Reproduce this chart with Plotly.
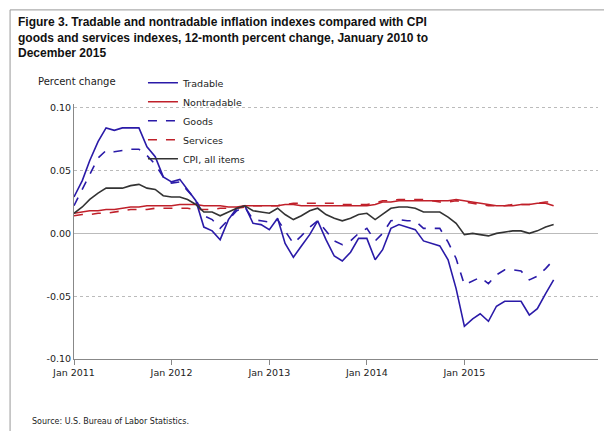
import plotly.graph_objects as go
import pandas as pd

months = pd.date_range("2011-01-01", "2015-12-01", freq="MS")
tradable = [0.029,0.042,0.058,0.073,0.084,0.082,0.084,0.084,0.084,0.069,0.061,0.045,
            0.041,0.043,0.035,0.026,0.005,0.002,-0.005,0.011,0.020,0.022,0.008,0.007,
            0.003,0.012,-0.008,-0.019,-0.010,-0.001,0.010,-0.005,-0.018,-0.022,-0.015,-0.004,
            -0.004,-0.021,-0.013,0.004,0.007,0.005,0.003,-0.006,-0.008,-0.010,-0.021,-0.044,
            -0.074,-0.068,-0.064,-0.070,-0.058,-0.054,-0.054,-0.054,-0.065,-0.060,-0.048,-0.037]
goods = [0.022,0.035,0.048,0.060,0.066,0.065,0.066,0.067,0.067,0.062,0.055,0.045,
         0.040,0.041,0.034,0.027,0.014,0.011,0.004,0.011,0.018,0.021,0.011,0.010,
         0.009,0.011,0.002,-0.008,-0.002,0.005,0.010,0.002,-0.006,-0.009,-0.006,0.000,
         0.004,-0.006,0.000,0.010,0.011,0.010,0.010,0.004,0.004,0.004,-0.007,-0.020,
         -0.041,-0.038,-0.035,-0.040,-0.033,-0.029,-0.029,-0.030,-0.037,-0.034,-0.028,-0.021]
cpi = [0.016,0.021,0.027,0.032,0.036,0.036,0.036,0.038,0.039,0.036,0.035,0.030,
       0.029,0.029,0.027,0.023,0.017,0.017,0.014,0.017,0.020,0.022,0.018,0.017,
       0.016,0.020,0.015,0.011,0.014,0.018,0.020,0.015,0.012,0.010,0.012,0.015,
       0.016,0.011,0.015,0.020,0.021,0.021,0.020,0.017,0.017,0.017,0.013,0.008,
       -0.001,0.000,-0.001,-0.002,0.000,0.001,0.002,0.002,0.000,0.002,0.005,0.007]
nontradable = [0.016,0.017,0.018,0.018,0.019,0.019,0.020,0.021,0.021,0.022,0.022,0.022,
               0.022,0.023,0.023,0.023,0.022,0.022,0.022,0.021,0.021,0.022,0.022,0.022,
               0.022,0.022,0.023,0.023,0.022,0.022,0.022,0.022,0.022,0.022,0.022,0.022,
               0.022,0.023,0.025,0.025,0.026,0.026,0.026,0.026,0.026,0.026,0.026,0.027,
               0.026,0.025,0.024,0.023,0.022,0.022,0.022,0.023,0.023,0.024,0.024,0.022]
services = [0.014,0.015,0.015,0.016,0.016,0.017,0.018,0.019,0.019,0.019,0.020,0.020,
            0.020,0.020,0.020,0.019,0.019,0.019,0.020,0.020,0.020,0.021,0.022,0.022,
            0.022,0.022,0.023,0.024,0.024,0.024,0.024,0.024,0.024,0.023,0.023,0.023,
            0.023,0.024,0.026,0.026,0.027,0.027,0.027,0.027,0.026,0.025,0.025,0.026,
            0.025,0.024,0.023,0.022,0.022,0.022,0.023,0.023,0.023,0.024,0.025,0.025]

blue = "#2a1aa8"; red = "#c0202a"
fig = go.Figure()
fig.add_trace(go.Scatter(x=months, y=tradable, name="Tradable", mode="lines", line=dict(color=blue, width=1.6)))
fig.add_trace(go.Scatter(x=months, y=nontradable, name="Nontradable", mode="lines", line=dict(color=red, width=1.6)))
fig.add_trace(go.Scatter(x=months, y=goods, name="Goods", mode="lines", line=dict(color=blue, width=1.6, dash="dash")))
fig.add_trace(go.Scatter(x=months, y=services, name="Services", mode="lines", line=dict(color=red, width=1.6, dash="dash")))
fig.add_trace(go.Scatter(x=months, y=cpi, name="CPI, all items", mode="lines", line=dict(color="#333333", width=1.6)))

fig.update_layout(
    width=612, height=431, paper_bgcolor="white", plot_bgcolor="white",
    margin=dict(l=66, r=22, t=96, b=80),
    font=dict(family="DejaVu Sans", size=10, color="#222"),
    legend=dict(orientation="h", x=0.237, y=1.14, xanchor="left", yanchor="top", entrywidth=110,
                font=dict(size=9.5), bgcolor="rgba(0,0,0,0)", itemwidth=30, tracegroupgap=0),
    xaxis=dict(range=["2011-01-01", "2016-05-15"], tickvals=["2011-01-01","2012-01-01","2013-01-01","2014-01-01","2015-01-01"],
               ticktext=["Jan 2011","Jan 2012","Jan 2013","Jan 2014","Jan 2015"], showgrid=False,
               showline=True, linecolor="#888", ticks="outside", tickcolor="#888", ticklen=5, tickfont=dict(size=9.5)),
    yaxis=dict(range=[-0.1, 0.103], tickvals=[-0.1,-0.05,0,0.05,0.1], ticktext=["-0.10","-0.05","0.00","0.05","0.10"],
               showgrid=True, gridcolor="#bbb", griddash="dot", zeroline=True, zerolinecolor="#bbb", zerolinewidth=1,
               showline=True, linecolor="#888", tickfont=dict(size=9.5)),
)
fig.add_annotation(text="<b>Figure 3. Tradable and nontradable inflation indexes compared with CPI<br>goods and services indexes, 12-month percent change, January 2010 to<br>December 2015</b>",
                   xref="paper", yref="paper", x=-0.111, y=1.357, xanchor="left", yanchor="top", align="left",
                   showarrow=False, font=dict(size=12, color="#111", family="Liberation Sans"))
fig.add_annotation(text="Percent change", xref="paper", yref="paper", x=-0.073, y=1.06, xanchor="left", yanchor="bottom",
                   showarrow=False, font=dict(size=10))
fig.add_annotation(text="Source: U.S. Bureau of Labor Statistics.", xref="paper", yref="paper", x=-0.084, y=-0.22,
                   xanchor="left", yanchor="top", showarrow=False, font=dict(size=8))
fig.add_shape(type="rect", xref="paper", yref="paper", x0=-0.122, x1=1.034, y0=-0.3, y1=1.369,
              line=dict(color="#999", width=1))
fig.write_html("out.html")
